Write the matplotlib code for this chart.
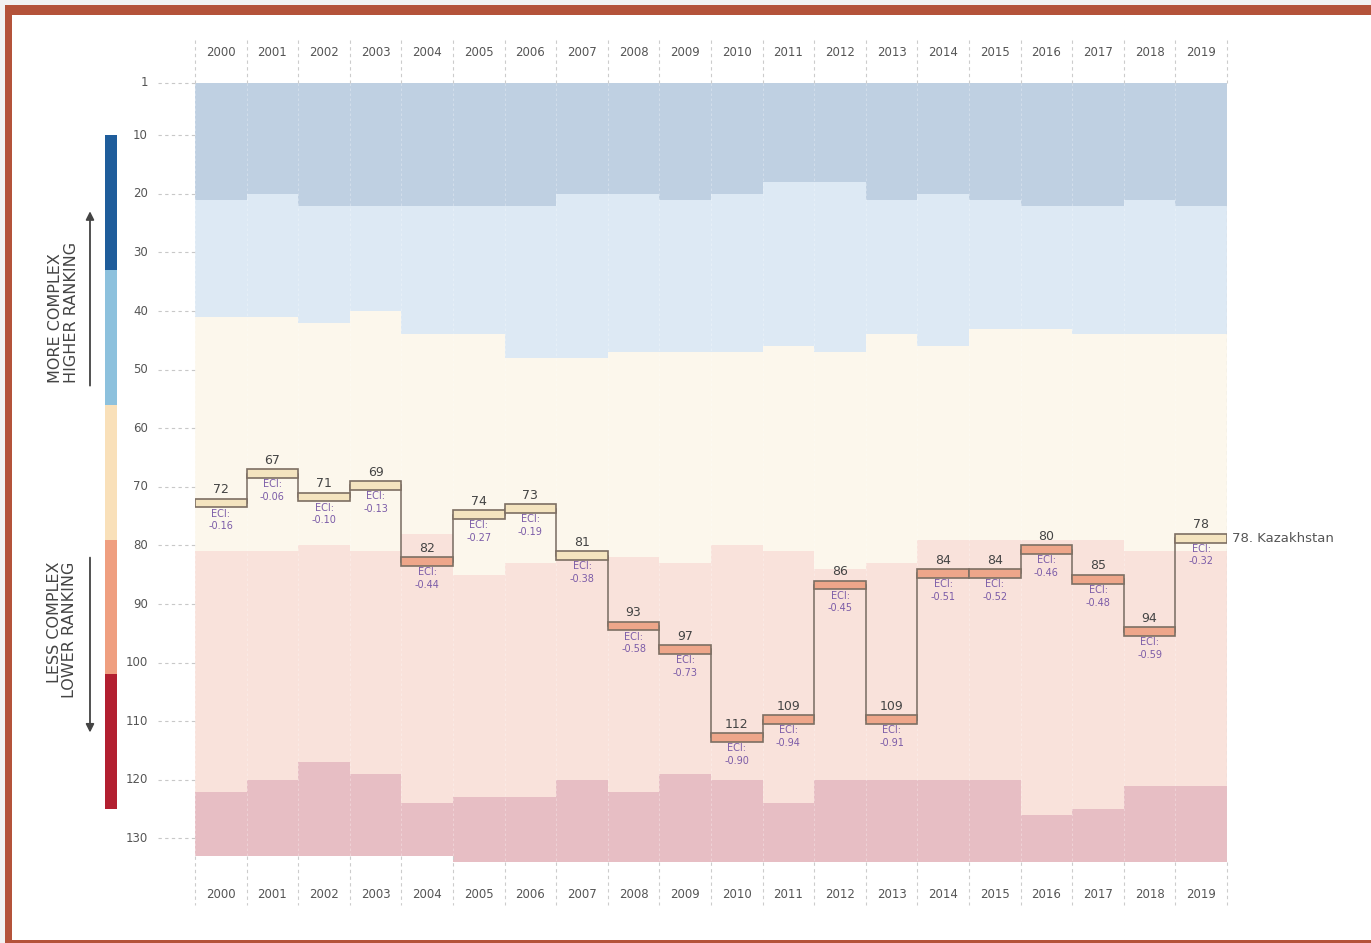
"""Economic complexity ranking of Kazakhstan, 2000-2019, drawn over the ranking bands."""

import numpy as np
import matplotlib.pyplot as plt
from matplotlib.patches import Rectangle

years = list(range(2000, 2020))
ranks = [72, 67, 71, 69, 82, 74, 73, 81, 93, 97, 112, 109, 86, 109, 84, 84, 80, 85, 94, 78]
eci = [-0.16, -0.06, -0.10, -0.13, -0.44, -0.27, -0.19, -0.38, -0.58, -0.73,
       -0.90, -0.94, -0.45, -0.91, -0.51, -0.52, -0.46, -0.48, -0.59, -0.32]
country = "Kazakhstan"

# band edges per year (rank units, top to bottom)
band_top = [1] * 20
blue_edge = [21, 20, 22, 22, 22, 22, 22, 20, 20, 21, 20, 18, 18, 21, 20, 21, 22, 22, 21, 22]
lightblue_edge = [41, 41, 42, 40, 44, 44, 48, 48, 47, 47, 47, 46, 47, 44, 46, 43, 43, 44, 44, 44]
cream_edge = [81, 81, 80, 81, 78, 85, 83, 82, 82, 83, 80, 81, 84, 83, 79, 79, 79, 79, 81, 81]
pink_edge = [122, 120, 117, 119, 124, 123, 123, 120, 122, 119, 120, 124, 120, 120, 120, 120, 126, 125, 121, 121]
band_bottom = [133, 133, 133, 133, 133, 134, 134, 134, 134, 134, 134, 134, 134, 134, 134, 134, 134, 134, 134, 134]

ytick_vals = [1, 10, 20, 30, 40, 50, 60, 70, 80, 90, 100, 110, 120, 130]
legend_ranks = [10, 33, 56, 79, 102, 125]

band_colors = ['#bfd0e2', '#dde9f4', '#fcf7ec', '#f9e2db', '#e7bec4']
legend_colors = ['#1f5d9b', '#8dc1dd', '#f9e0b9', '#ef9f80', '#b21f30']

W, H = 1371, 943
fig = plt.figure(figsize=(W / 100, H / 100), dpi=100)
fig.patch.set_facecolor('#f2f2f2')

# page frame
fig.add_artist(Rectangle((5 / W, 0), 1, (H - 5) / H, transform=fig.transFigure,
                         fc='#b4533a', ec='none', zorder=0))
fig.add_artist(Rectangle((12 / W, 3 / H), 1, (940 - 15) / H, transform=fig.transFigure,
                         fc='white', ec='none', zorder=0))

ax = fig.add_axes([195 / W, (H - 905) / H, 1032 / W, 865 / H])
ax.set_xlim(0, 20)
ax.set_ylim(1 + (905 - 82.5) / 5.86, 1 - (82.5 - 40) / 5.86)
ax.axis('off')
ax.patch.set_alpha(0)

x = np.arange(20)
edges = [band_top, blue_edge, lightblue_edge, cream_edge, pink_edge, band_bottom]
for k, c in enumerate(band_colors):
    upper = np.array(edges[k])
    lower = np.array(edges[k + 1])
    ax.bar(x, lower - upper, bottom=upper, width=1, align='edge', color=c, lw=0, zorder=1)

# column separators
y_top = ax.get_ylim()[1]
y_bot = ax.get_ylim()[0]
for i in range(21):
    ax.plot([i, i], [y_top, 1], ls=(0, (3, 3)), color='#cccccc', lw=0.8, zorder=2, clip_on=False)
    bot = band_bottom[min(i, 19)] if i < 20 else band_bottom[19]
    if i > 0 and i < 20:
        bot = min(band_bottom[i - 1], band_bottom[i])
    ax.plot([i, i], [bot, y_bot], ls=(0, (3, 3)), color='#cccccc', lw=0.8, zorder=2, clip_on=False)
    ax.plot([i, i], [1, bot], ls=(0, (3, 3)), color='white', lw=0.6, alpha=0.35, zorder=2)
ax.plot([20, 20], [1, band_bottom[-1]], ls=(0, (3, 3)), color='#d0d0d0', lw=0.9, zorder=2)

# year labels top and bottom
for i, yr in enumerate(years):
    ax.text(i + 0.5, 1 + (52 - 82.5) / 5.86, str(yr), ha='center', va='center',
            fontsize=8.5, color='#555555', clip_on=False)
    ax.text(i + 0.5, 1 + (895 - 82.5) / 5.86, str(yr), ha='center', va='center',
            fontsize=8.5, color='#555555', clip_on=False)

# rank ticks
for v in ytick_vals:
    ax.text(-0.91, v, str(v), ha='right', va='center', fontsize=8.5, color='#555555', clip_on=False)
    ax.plot([-0.72, 0], [v, v], ls=(0, (3, 3)), color='#c8c8c8', lw=0.8, clip_on=False)

# step line and rank bars
ranks_arr = np.array(ranks)
ax.stairs(ranks_arr + 0.75, np.arange(21), baseline=None, color='#776b61', lw=1.1, zorder=3)
for i, (r, v) in enumerate(zip(ranks, eci)):
    fc = '#f4e4bf' if r < cream_edge[i] else '#eea68a'
    ax.add_patch(Rectangle((i, r), 1, 1.5, fc=fc, ec='#7d6f63', lw=1.2, zorder=4))
    ax.text(i + 0.5, r - 0.4, str(r), ha='center', va='bottom', fontsize=9, color='#444444', zorder=5)
    ax.text(i + 0.5, r + 1.7, f"ECI:\n{v:.2f}", ha='center', va='top', fontsize=7,
            color='#7c5ca8', linespacing=1.35, zorder=5)

ax.text(20.1, ranks[-1] + 0.75, f"{ranks[-1]}. {country}", ha='left', va='center',
        fontsize=9.5, color='#555555', clip_on=False)

# ranking legend bar on the left
for k, c in enumerate(legend_colors):
    lo, hi = legend_ranks[k], legend_ranks[k + 1]
    ax.add_patch(Rectangle((-1.744, lo), 0.233, hi - lo, fc=c, ec='none', clip_on=False))

ax.annotate('', xy=(-2.035, 22.5), xytext=(-2.035, 53.2), annotation_clip=False,
            arrowprops=dict(arrowstyle='-|>', color='#444444', lw=1.3, mutation_scale=12))
ax.annotate('', xy=(-2.035, 112.4), xytext=(-2.035, 81.6), annotation_clip=False,
            arrowprops=dict(arrowstyle='-|>', color='#444444', lw=1.3, mutation_scale=12))
ax.text(-2.55, 40.2, "MORE COMPLEX\nHIGHER RANKING", rotation=90, ha='center', va='center',
        multialignment='left', fontsize=11.5, color='#444444', linespacing=1.05, clip_on=False)
ax.text(-2.58, 94.4, "LESS COMPLEX\nLOWER RANKING", rotation=90, ha='center', va='center',
        multialignment='right', fontsize=11.5, color='#444444', linespacing=1.05, clip_on=False)

fig.savefig('out.png', dpi=100)
